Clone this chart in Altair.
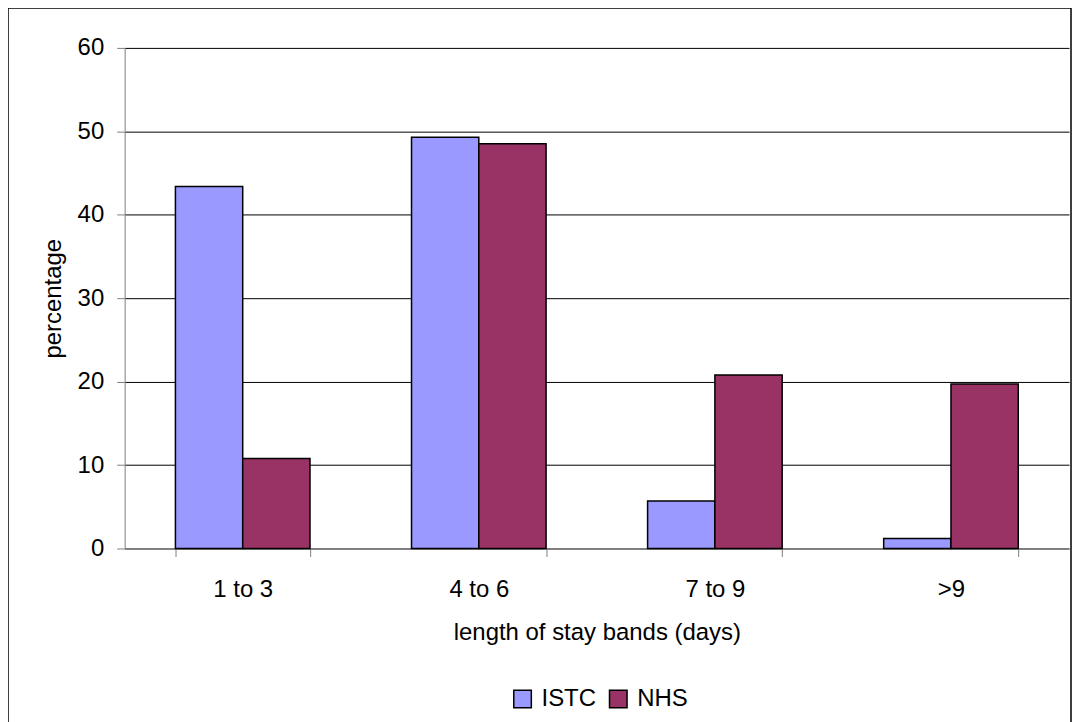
import altair as alt
import pandas as pd

categories = ["1 to 3", "4 to 6", "7 to 9", ">9"]
series = ["ISTC", "NHS"]
istc = [43.4, 49.3, 5.7, 1.2]
nhs = [10.8, 48.5, 20.8, 19.7]
colors = ["#9999FF", "#993366"]
y_ticks = [0, 10, 20, 30, 40, 50, 60]

rows = []
for c, a, b in zip(categories, istc, nhs):
    rows.append({"band": c, "series": "ISTC", "value": a})
    rows.append({"band": c, "series": "NHS", "value": b})
df = pd.DataFrame(rows)

FONT = "Liberation Sans"
FS = 24
W, H = 947, 502
PL, PT, PR, PB = 117, 39, 5, 173

bars = alt.Chart(df).mark_bar(stroke="black", strokeWidth=1.5).encode(
    x=alt.X(
        "band:N",
        sort=categories,
        scale=alt.Scale(paddingInner=0.43, paddingOuter=0.215),
        axis=alt.Axis(
            title="length of stay bands (days)",
            labelAngle=0,
            tickBand="extent",
            grid=False,
            domainColor="#808080",
            tickColor="#808080",
            tickSize=8,
            labelFontSize=FS,
            labelPadding=21,
            labelColor="black",
            titleFontSize=FS,
            titleFontWeight="normal",
            titlePadding=19,
            titleColor="black",
        ),
    ),
    xOffset=alt.XOffset(
        "series:N", sort=series, scale=alt.Scale(paddingInner=0, paddingOuter=0)
    ),
    y=alt.Y(
        "value:Q",
        scale=alt.Scale(domain=[0, 60]),
        axis=alt.Axis(
            title="percentage",
            values=y_ticks,
            grid=True,
            gridColor="black",
            gridWidth=1,
            domainColor="#808080",
            tickColor="#808080",
            tickSize=8,
            labelFontSize=FS,
            labelPadding=13,
            labelColor="black",
            titleFontSize=FS,
            titleFontWeight="normal",
            titlePadding=12,
            titleColor="black",
        ),
    ),
    color=alt.Color(
        "series:N",
        scale=alt.Scale(domain=series, range=colors),
        legend=alt.Legend(
            title=None,
            orient="none",
            legendX=387,
            legendY=641,
            direction="horizontal",
            symbolType="square",
            symbolSize=310,
            symbolStrokeColor="black",
            symbolStrokeWidth=1.5,
            labelFontSize=FS,
            labelColor="black",
            labelOffset=7,
            columnPadding=10,
        ),
    ),
)

border = alt.Chart(pd.DataFrame({"k": [0]})).mark_rect(
    fill=None, stroke="black", strokeWidth=1.5, clip=False
).encode(
    x=alt.value(-PL),
    x2=alt.value(W + 2),
    y=alt.value(-PT - 1),
    y2=alt.value(H + PB + 20),
)

chart = (
    alt.layer(bars, border)
    .properties(
        width=W,
        height=H,
        autosize=alt.AutoSizeParams(type="none"),
        padding={"left": PL, "top": PT, "right": PR, "bottom": PB},
        background="white",
    )
    .configure(font=FONT)
    .configure_view(stroke=None)
)

chart.save("out.html", embed_options={"renderer": "svg", "actions": False})
